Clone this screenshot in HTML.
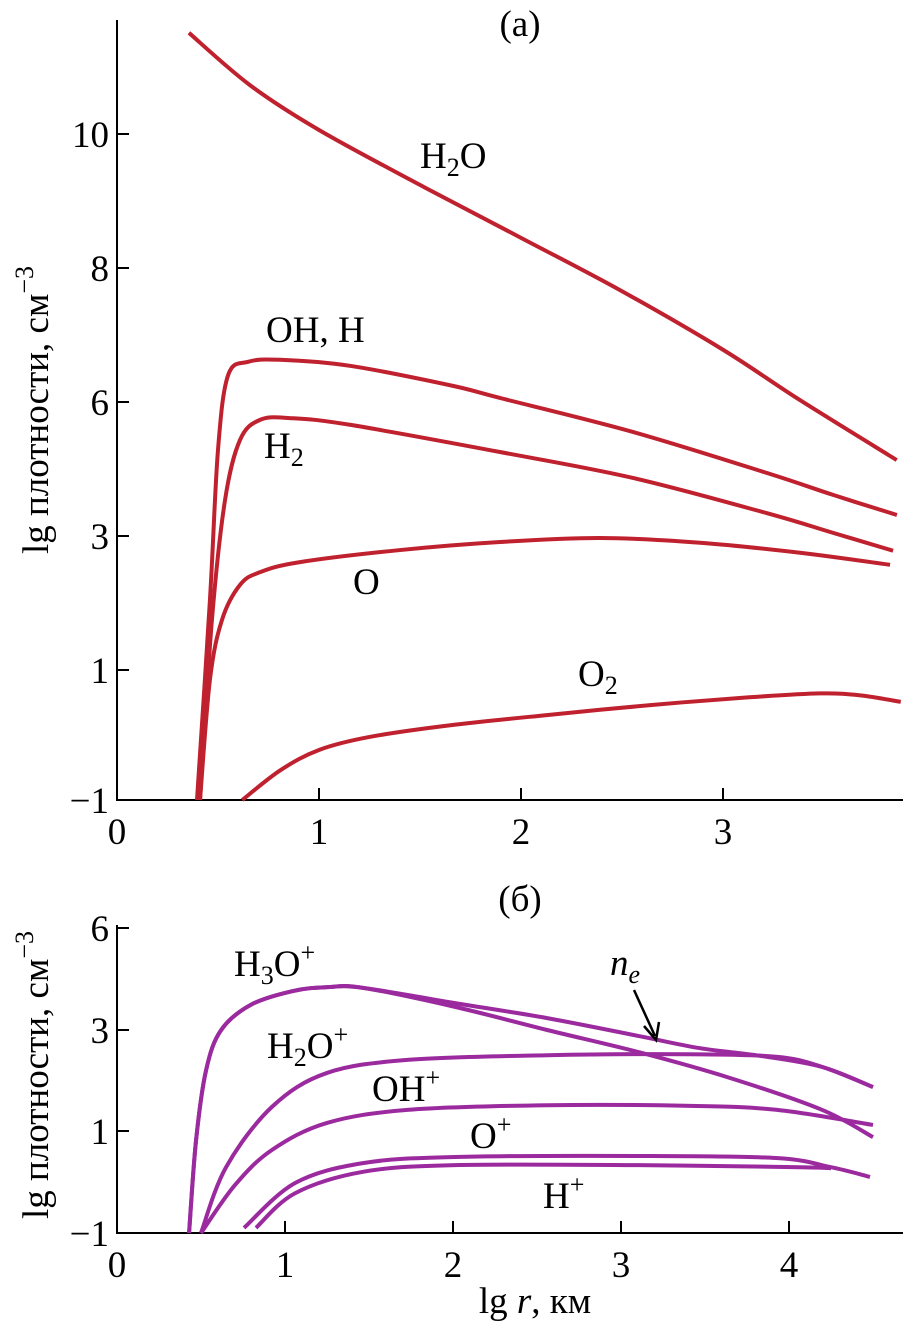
<!DOCTYPE html>
<html><head><meta charset="utf-8"><style>
body{margin:0;background:#fff}
svg{display:block;font-family:"Liberation Serif",serif}
</style></head><body>
<svg id="c" width="903" height="1325" viewBox="0 0 903 1325"></svg>
<script>
// ---- data (top panel a) ----
const topXTicks=[0,1,2,3];
const topYTicks=[-1,1,3,6,8,10];
const h2oX=[0.356,0.658,1.0,1.5,2.0,2.49,3.0,3.38,3.86];
const h2oY=[11.51,10.73,10.06,9.24,8.45,7.67,6.78,6.03,4.70];
const ohX=[0.396,0.46,0.5,0.55,0.649,0.807,1.153,1.649,1.896,2.554,3.218,3.545,3.861];
const ohY=[-1,2.04,4.93,6.40,6.60,6.63,6.54,6.25,6.06,5.33,4.41,3.92,3.47];
const h2X=[0.411,0.470,0.535,0.609,0.708,0.856,1.153,1.896,2.554,3.218,3.545,3.842];
const h2Y=[-1,1.75,3.81,5.15,5.60,5.64,5.49,4.88,4.30,3.51,3.07,2.78];
const oX=[0.411,0.460,0.520,0.609,0.708,0.906,1.401,1.896,2.391,2.886,3.381,3.827];
const oY=[-1,0.85,1.75,2.27,2.46,2.61,2.79,2.91,2.97,2.90,2.75,2.57];
const o2X=[0.62,0.81,1.0,1.25,1.65,2.14,2.64,3.13,3.48,3.68,3.88];
const o2Y=[-1,-0.54,-0.23,-0.03,0.15,0.31,0.46,0.58,0.64,0.61,0.51];
// ---- data (bottom panel б) ----
const botXTicks=[0,1,2,3,4];
const botYTicks=[-1,1,3,6];
const h3oX=[0.429,0.470,0.530,0.620,0.800,1.05,1.25,1.464,2.012,2.560,3.107,3.649,4.196,4.5];
const h3oY=[-1,0.8,2.2,3.0,3.75,4.15,4.26,4.24,3.68,3.0,2.56,2.05,1.42,0.88];
const neX=[0.429,0.470,0.530,0.620,0.800,1.05,1.25,1.464,2.012,2.560,3.107,3.470,3.827,4.196,4.5];
const neY=[-1,0.8,2.2,3.0,3.75,4.15,4.26,4.24,3.79,3.35,2.88,2.64,2.49,2.27,1.87];
const h2opX=[0.5,0.649,0.923,1.25,1.738,2.560,3.381,3.923,4.196,4.5];
const h2opY=[-1,0.29,1.48,2.15,2.41,2.50,2.52,2.47,2.27,1.87];
const ohpX=[0.5,0.702,0.923,1.25,1.738,2.560,3.381,3.923,4.5];
const ohpY=[-1,-0.06,0.63,1.16,1.42,1.51,1.50,1.42,1.12];
const opX=[0.756,1.060,1.464,2.012,3.107,3.923,4.25,4.482];
const opY=[-0.90,-0.02,0.37,0.49,0.51,0.47,0.29,0.10];
const hpX=[0.827,1.060,1.464,2.012,3.107,4.065,4.25];
const hpY=[-0.90,-0.22,0.20,0.33,0.33,0.29,0.27];

const NS="http://www.w3.org/2000/svg";
const svg=document.getElementById('c');
function el(t,a,p){const e=document.createElementNS(NS,t);for(const k in a)e.setAttribute(k,a[k]);(p||svg).appendChild(e);return e;}
function mkY(ticks,pix){return v=>{for(let i=0;i<ticks.length-1;i++){if(v<=ticks[i+1]||i==ticks.length-2){return pix[i]+(v-ticks[i])*(pix[i+1]-pix[i])/(ticks[i+1]-ticks[i]);}}};}
const topX=v=>117+v*202, topY=mkY(topYTicks,[800,670,536,402,268,134]);
const botX=v=>117+v*168, botY=mkY(botYTicks,[1233,1131,1030,928]);
function curve(xs,ys,fx,fy,color,name){
  const p=xs.map((x,i)=>[fx(x),fy(ys[i])]);
  let d=`M${p[0][0]},${p[0][1]}`;
  for(let i=0;i<p.length-1;i++){const p0=p[i-1]||p[i],p1=p[i],p2=p[i+1],p3=p[i+2]||p2;
    d+=` C${p1[0]+(p2[0]-p0[0])/6},${p1[1]+(p2[1]-p0[1])/6} ${p2[0]-(p3[0]-p1[0])/6},${p2[1]-(p3[1]-p1[1])/6} ${p2[0]},${p2[1]}`;}
  const e=el('path',{d:d,fill:'none',stroke:color,'stroke-width':4,'stroke-linejoin':'round'});
  
  
}
function txt(x,y,s,name,extra){const e=el('text',Object.assign({x:x,y:y,'font-size':37},extra||{}));e.innerHTML=s;
  
  return e;}
function axes(fx,fy,xt,yt,x0,x1,y0,y1,pref){
  const a=el('path',{d:`M${x0},${y0} V${y1} H${x1}`,fill:'none',stroke:'#000','stroke-width':2});
  
  
  xt.forEach(v=>{el('line',{x1:fx(v),x2:fx(v),y1:y1,y2:y1-12,stroke:'#000','stroke-width':2});
    txt(fx(v),y1+44,v,pref+'-x-tick-label',{'text-anchor':'middle'});});
  yt.forEach(v=>{el('line',{x1:x0,x2:x0+12,y1:fy(v),y2:fy(v),stroke:'#000','stroke-width':2});
    txt(x0-8,fy(v)+13,v<0?'\u2212'+(-v):v,pref+'-y-tick-label',{'text-anchor':'end'});});
}
axes(topX,topY,topXTicks,topYTicks,117,905,20,800,'top');
axes(botX,botY,botXTicks,botYTicks,117,905,925,1233,'bottom');
const R='#c0212e',P='#9b2a9e';
curve(h2oX,h2oY,topX,topY,R,'h2o-line');
curve(ohX,ohY,topX,topY,R,'oh-h-line');
curve(h2X,h2Y,topX,topY,R,'h2-line');
curve(oX,oY,topX,topY,R,'o-line');
curve(o2X,o2Y,topX,topY,R,'o2-line');
curve(h3oX,h3oY,botX,botY,P,'h3o-plus-line');
curve(neX,neY,botX,botY,P,'ne-line');
curve(h2opX,h2opY,botX,botY,P,'h2o-plus-line');
curve(ohpX,ohpY,botX,botY,P,'oh-plus-line');
curve(opX,opY,botX,botY,P,'o-plus-line');
curve(hpX,hpY,botX,botY,P,'h-plus-line');
const sub='<tspan font-size="26" dy="8">',sup='<tspan font-size="26" dy="-15">';
txt(520,36,'(a)','panel-a-title',{'text-anchor':'middle'});
txt(520,911,'(б)','panel-b-title',{'text-anchor':'middle'});
txt(420,168,'H'+sub+'2</tspan><tspan dy="-8">O</tspan>','label-h2o');
txt(266,342,'OH, H','label-oh-h');
txt(264,458,'H'+sub+'2</tspan>','label-h2');
txt(353,594,'O','label-o');
txt(578,686,'O'+sub+'2</tspan>','label-o2');
txt(234,976,'H'+sub+'3</tspan><tspan dy="-8">O</tspan>'+sup+'+</tspan>','label-h3o-plus');
txt(267,1058,'H'+sub+'2</tspan><tspan dy="-8">O</tspan>'+sup+'+</tspan>','label-h2o-plus');
txt(372,1101,'OH'+sup+'+</tspan>','label-oh-plus');
txt(470,1148,'O'+sup+'+</tspan>','label-o-plus');
txt(543,1208,'H'+sup+'+</tspan>','label-h-plus');
txt(610,975,'<tspan font-style="italic">n</tspan><tspan font-size="26" dy="8" font-style="italic">e</tspan>','label-ne');
const ar=el('path',{d:'M634,990 L655,1036 M644,1026 L656,1040 L659,1022',fill:'none',stroke:'#000','stroke-width':2.5});

txt(535,1313,'lg <tspan font-style="italic">r</tspan>, км','x-axis-title',{'text-anchor':'middle'});
txt(0,0,'lg плотности, см'+sup+'−3</tspan>','top-y-axis-title',{'text-anchor':'middle',transform:'translate(48,410) rotate(-90)'});
txt(0,0,'lg плотности, см'+sup+'−3</tspan>','bottom-y-axis-title',{'text-anchor':'middle',transform:'translate(48,1075) rotate(-90)'});
</script>
</body></html>
